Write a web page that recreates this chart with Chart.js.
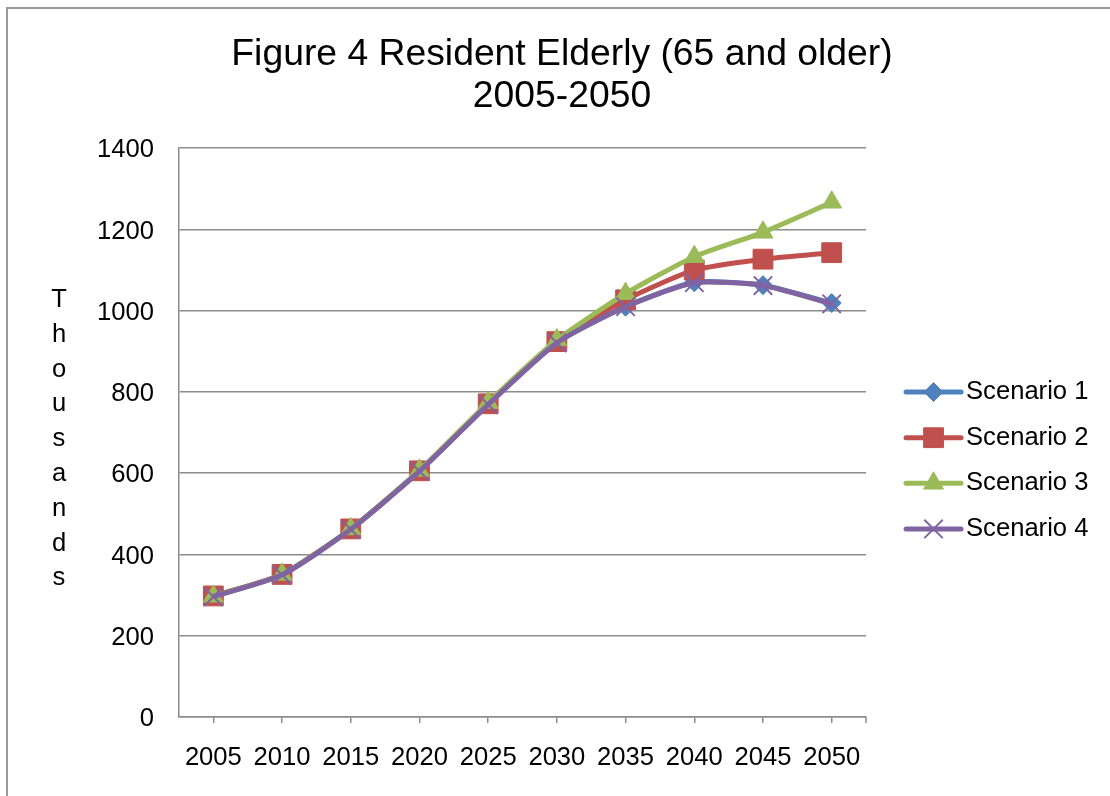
<!DOCTYPE html>
<html>
<head>
<meta charset="utf-8">
<title>Resident Elderly (65 and older) 2005-2050</title>
<script src="https://cdn.jsdelivr.net/npm/chart.js@4/dist/chart.umd.min.js"></script>
<style>
  html, body { margin: 0; padding: 0; background: #fff; overflow: hidden; width: 1110px; height: 796px; }
  #frame {
    position: absolute; left: 6px; top: 7px; width: 1200px; height: 1000px;
    border-left: 2px solid #9a9a9a; border-top: 2px solid #9a9a9a;
  }
  #chart { position: absolute; left: 0; top: 0; }
</style>
</head>
<body>
<div id="frame"><canvas id="chart" width="1102" height="903"></canvas></div>
<script>
// Projected resident population aged 65+, in thousands
const years = ['2005', '2010', '2015', '2020', '2025', '2030', '2035', '2040', '2045', '2050'];
const scenarioNames = ['Scenario 1', 'Scenario 2', 'Scenario 3', 'Scenario 4'];
const scenario1 = [297, 350, 462, 605, 770, 922, 1010, 1070, 1063, 1019];
const scenario2 = [298, 351, 463, 606, 771, 924, 1027, 1100, 1127, 1143];
const scenario3 = [297, 351, 463, 607, 774, 928, 1042, 1133, 1193, 1267];
const scenario4 = [296, 350, 462, 605, 769, 921, 1010, 1069, 1062, 1017];
const yTicks = [0, 200, 400, 600, 800, 1000, 1200, 1400];
const yTitle = 'Thousands';
const titleLines = ['Figure 4 Resident Elderly (65 and older)', '2005-2050'];

const FONT = "'Liberation Sans', Arial, Helvetica, sans-serif";
const AXIS_GRAY = '#8c8c8c';
Chart.defaults.font.family = FONT;
Chart.defaults.color = '#000';

const styles = [
  { color: '#4F81BD', pointStyle: 'rectRot', radius: 9.5,  pointBorderWidth: 1 },
  { color: '#C0504D', pointStyle: 'rect',    radius: 14,   pointBorderWidth: 1 },
  { color: '#9BBB59', pointStyle: 'triangle',radius: 11.5, pointBorderWidth: 1 },
  { color: '#8064A2', pointStyle: 'crossRot',radius: 13,   pointBorderWidth: 2 }
];
const seriesValues = [scenario1, scenario2, scenario3, scenario4];

const datasets = seriesValues.map((vals, i) => ({
  label: scenarioNames[i],
  data: vals,
  borderColor: styles[i].color,
  backgroundColor: styles[i].color,
  borderWidth: 5,
  tension: 0.2,
  pointStyle: styles[i].pointStyle,
  pointRadius: styles[i].radius,
  pointHoverRadius: styles[i].radius,
  pointBackgroundColor: styles[i].color,
  pointBorderColor: styles[i].color,
  pointBorderWidth: styles[i].pointBorderWidth,
  order: seriesValues.length - i   // later series painted over earlier ones
}));

// Stacked-letter axis title, legend line+marker samples and the closing axis tick
const decorations = {
  id: 'decorations',
  afterDraw(chart) {
    const ctx = chart.ctx;
    const area = chart.chartArea;
    ctx.save();

    // vertical "Thousands" title, one letter per line
    ctx.font = '25.6px ' + FONT;
    ctx.fillStyle = '#000';
    ctx.textAlign = 'center';
    ctx.textBaseline = 'alphabetic';
    yTitle.split('').forEach((ch, i) => ctx.fillText(ch, 51, 298 + i * 34.8));

    // tick mark at the right end of the category axis
    ctx.strokeStyle = AXIS_GRAY;
    ctx.lineWidth = 1.5;
    ctx.beginPath();
    ctx.moveTo(area.right, area.bottom);
    ctx.lineTo(area.right, area.bottom + 6);
    ctx.stroke();

    // legend samples
    const boxes = chart.legend && chart.legend.legendHitBoxes;
    if (boxes) {
      boxes.forEach((hb, i) => {
        const st = styles[i];
        const y = hb.top + hb.height / 2;
        const x0 = hb.left + 20, x1 = hb.left + 75;
        ctx.strokeStyle = st.color;
        ctx.fillStyle = st.color;
        ctx.lineWidth = 5;
        ctx.lineCap = 'round';
        ctx.beginPath();
        ctx.moveTo(x0, y);
        ctx.lineTo(x1, y);
        ctx.stroke();
        ctx.lineCap = 'butt';
        ctx.lineWidth = st.pointBorderWidth;
        Chart.helpers.drawPoint(ctx, {
          pointStyle: st.pointStyle, radius: st.radius, rotation: 0, borderWidth: st.pointBorderWidth
        }, (x0 + x1) / 2, y);
      });
    }
    ctx.restore();
  }
};

new Chart(document.getElementById('chart'), {
  type: 'line',
  data: { labels: years, datasets },
  options: {
    responsive: false,
    animation: false,
    devicePixelRatio: 1,
    layout: { padding: { left: 17.6, right: 11.6, top: 0, bottom: 0 } },
    plugins: {
      tooltip: { enabled: false },
      title: {
        display: true,
        text: titleLines,
        color: '#000',
        font: { size: 37.3, weight: 'normal', lineHeight: 1.14 },
        padding: { top: 24, bottom: 30.2 }
      },
      legend: {
        display: true,
        position: 'right',
        align: 'center',
        labels: {
          font: { size: 25.6 },
          color: '#000',
          boxWidth: 67.2,
          padding: 20,
          generateLabels: (chart) => chart.data.datasets.map((ds, i) => ({
            text: ds.label,
            datasetIndex: i,
            fillStyle: 'rgba(0,0,0,0)',
            strokeStyle: 'rgba(0,0,0,0)',
            lineWidth: 0,
            hidden: false,
            fontColor: '#000'
          }))
        }
      }
    },
    scales: {
      x: {
        type: 'category',
        offset: true,
        grid: {
          display: true, drawOnChartArea: false, drawTicks: true, tickLength: 6,
          offset: false, color: AXIS_GRAY, lineWidth: 1.5
        },
        border: { display: true, color: AXIS_GRAY, width: 1.5 },
        ticks: { padding: 20, font: { size: 25.6 }, color: '#000', maxRotation: 0, autoSkip: false },
        afterFit: (scale) => { scale.height = 195; }
      },
      y: {
        min: yTicks[0],
        max: yTicks[yTicks.length - 1],
        afterBuildTicks: (scale) => { scale.ticks = yTicks.map(v => ({ value: v })); },
        grid: { color: AXIS_GRAY, lineWidth: 1.5, drawTicks: false },
        border: { display: true, color: AXIS_GRAY, width: 1.5 },
        ticks: { padding: 25, labelOffset: 2, font: { size: 25.6 }, color: '#000', callback: (v) => String(v) },
        afterFit: (scale) => { scale.width = 153.4; }
      }
    }
  },
  plugins: [decorations]
});
</script>
</body>
</html>
